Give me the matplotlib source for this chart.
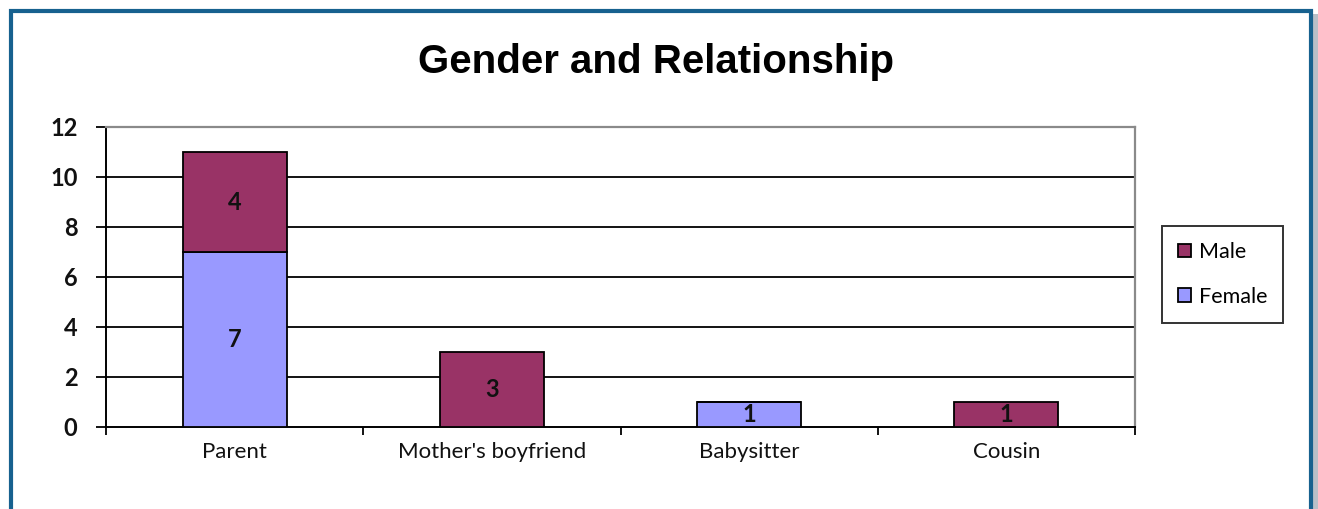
import matplotlib
matplotlib.use("Agg")
import matplotlib.pyplot as plt
from matplotlib.patches import Rectangle
import numpy as np

categories = ["Parent", "Mother's boyfriend", "Babysitter", "Cousin"]
female = [7, 0, 1, 0]
male = [4, 3, 0, 1]
series_names = ["Male", "Female"]
yticks = [0, 2, 4, 6, 8, 10, 12]

FEMALE_C = "#9999FF"
MALE_C = "#993366"

plt.rcParams['font.family'] = ['Lato', 'DejaVu Sans']

W, H = 1318, 509
fig = plt.figure(figsize=(W / 100, H / 100), dpi=100)
fig.patch.set_facecolor("white")

# border frame and shadow
fig.patches.append(Rectangle((1313 / W, 0), 5 / W, (H - 14) / H, transform=fig.transFigure,
                             facecolor="#b8bfc8", edgecolor="none", zorder=0))
fig.patches.append(Rectangle((10.5 / W, -0.05), (1311 - 10.5) / W, (H - 10.5) / H + 0.05,
                             transform=fig.transFigure, facecolor="none",
                             edgecolor="#17618f", linewidth=3, zorder=1))

ax = fig.add_axes([106 / W, (H - 427) / H, (1135 - 106) / W, (427 - 127) / H])
x = np.arange(len(categories))
width = 0.405
fb = ax.bar(x, female, width, color=FEMALE_C, edgecolor="black", linewidth=1.3, zorder=3)
mb = ax.bar(x, male, width, bottom=female, color=MALE_C, edgecolor="black", linewidth=1.3, zorder=3)

for i in range(len(categories)):
    if female[i] > 0:
        ax.text(x[i], female[i] / 2, str(female[i]), ha="center", va="center",
                fontsize=17, fontweight="bold", color="#111111", zorder=4)
    if male[i] > 0:
        ax.text(x[i], female[i] + male[i] / 2, str(male[i]), ha="center", va="center",
                fontsize=17, fontweight="bold", color="#111111", zorder=4)

ax.set_xlim(-0.5, len(categories) - 0.5)
ax.set_ylim(0, 12)
ax.set_yticks(yticks)
ax.set_yticklabels([str(v) for v in yticks], fontsize=17, fontweight="bold", color="#111111")
for v in yticks[1:-1]:
    ax.axhline(v, color="black", linewidth=1.3, zorder=1)

ax.set_xticks(x)
ax.set_xticklabels(categories, fontsize=16, color="#111111")
ax.tick_params(axis="x", length=0, pad=11)
ax.set_xticks(np.arange(-0.5, len(categories), 1.0), minor=True)
ax.tick_params(axis="x", which="minor", length=6, width=1.3, direction="out", color="black")
ax.tick_params(axis="y", length=7.5, width=1.3, direction="out", color="black", pad=13)

for s in ["top", "right"]:
    ax.spines[s].set_color("#8a8a8a")
    ax.spines[s].set_linewidth(1.6)
for s in ["left", "bottom"]:
    ax.spines[s].set_color("black")
    ax.spines[s].set_linewidth(1.4)

fig.text(656.5 / W, 1 - 73 / H, "Gender and Relationship", ha="center", va="baseline",
         fontsize=29, fontweight="bold", color="black", family=["Liberation Sans", "DejaVu Sans"])

leg = fig.legend([mb, fb], series_names, loc="upper left",
                 bbox_to_anchor=(1162 / W, 1 - 226 / H), frameon=True, fancybox=False,
                 fontsize=15.5, handlelength=0.6, handleheight=0.6, handletextpad=0.35,
                 labelspacing=1.15, borderpad=0.75, borderaxespad=0)
leg.get_frame().set_edgecolor("black")
leg.get_frame().set_linewidth(1.4)
for h in leg.legend_handles:
    h.set_linewidth(1.3)

fig.savefig("out.png", dpi=100)
